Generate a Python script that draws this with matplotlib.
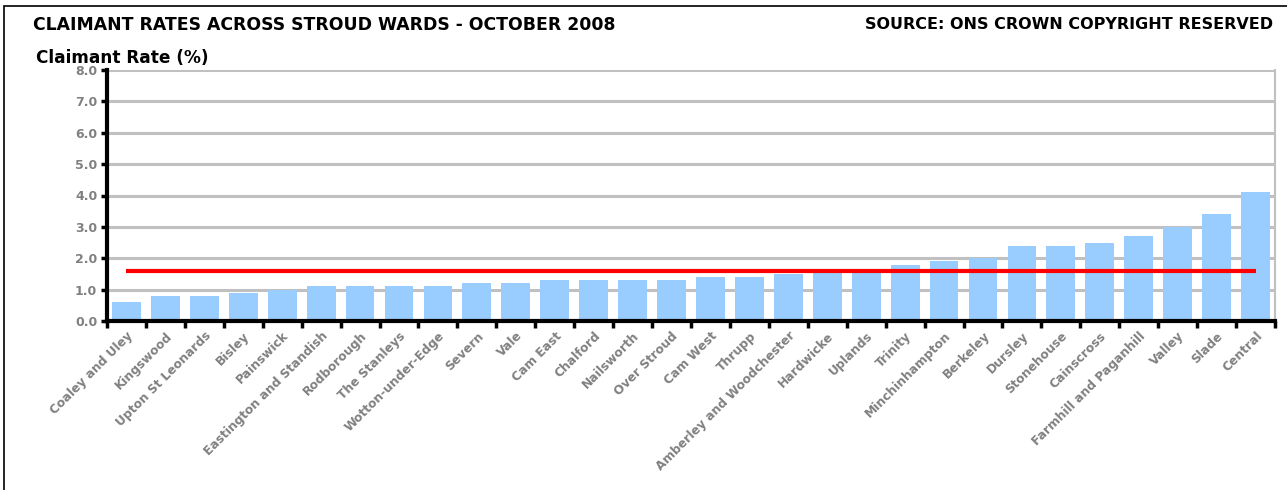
import matplotlib
matplotlib.use("Agg")
import matplotlib.pyplot as plt
from matplotlib.patches import Rectangle
from matplotlib.ticker import FixedLocator

plt.rcParams["font.family"] = ["DejaVu Sans"]

WARDS = [
    "Coaley and Uley", "Kingswood", "Upton St Leonards", "Bisley", "Painswick",
    "Eastington and Standish", "Rodborough", "The Stanleys", "Wotton-under-Edge",
    "Severn", "Vale", "Cam East", "Chalford", "Nailsworth", "Over Stroud",
    "Cam West", "Thrupp", "Amberley and Woodchester", "Hardwicke", "Uplands",
    "Trinity", "Minchinhampton", "Berkeley", "Dursley", "Stonehouse",
    "Cainscross", "Farmhill and Paganhill", "Valley", "Slade", "Central",
]
RATES = [0.6, 0.8, 0.8, 0.9, 1.0, 1.1, 1.1, 1.1, 1.1, 1.2, 1.2, 1.3, 1.3, 1.3,
         1.3, 1.4, 1.4, 1.5, 1.6, 1.6, 1.8, 1.9, 2.0, 2.4, 2.4, 2.5, 2.7, 3.0,
         3.4, 4.1]
STROUD_AVG = 1.6
Y_TICKS = [0, 1, 2, 3, 4, 5, 6, 7, 8]

BAR_COL = "#99CCFF"
GRID_COL = "#C0C0C0"
TXT_GREY = "#808080"

fig = plt.figure(figsize=(12.87, 4.9), dpi=100)
fig.patch.set_facecolor("white")

# outer frame (left + top edge visible)
fig.patches.append(Rectangle((4 / 1287, -0.1), 1.2, 1 - 6 / 490 + 0.1,
                             transform=fig.transFigure, fill=False,
                             edgecolor="black", linewidth=1.2))

ax = fig.add_axes([107 / 1287, 1 - 321 / 490, (1275 - 107) / 1287, (321 - 70) / 490])
n = len(WARDS)
x = list(range(n))
ax.bar(x, RATES, width=0.74, color=BAR_COL, zorder=2)
ax.plot(x, [STROUD_AVG] * n, color="#FF0000", linewidth=3, zorder=3,
        solid_capstyle="butt")

ax.set_xlim(-0.5, n - 0.5)
ax.set_ylim(0, 8)
ax.set_yticks(Y_TICKS)
ax.set_yticklabels([f"{v:.1f}" for v in Y_TICKS], fontsize=9, fontweight="bold",
                   color=TXT_GREY)
for v in Y_TICKS[1:]:
    ax.axhline(v, color=GRID_COL, linewidth=2.2, zorder=1)

ax.set_xticks(x)
ax.set_xticklabels(WARDS, rotation=45, ha="right", rotation_mode="anchor",
                   fontsize=8.8, fontweight="bold", color=TXT_GREY)
ax.tick_params(axis="x", which="major", length=0, pad=6)
ax.xaxis.set_minor_locator(FixedLocator([i - 0.5 for i in range(n + 1)]))
ax.tick_params(axis="x", which="minor", length=5, width=2.5, direction="out",
               color="black")
ax.tick_params(axis="y", length=4, width=2.5, direction="out", color="black",
               pad=3)

for side in ["left", "bottom"]:
    ax.spines[side].set_color("black")
    ax.spines[side].set_linewidth(3)
    ax.spines[side].set_zorder(4)
ax.spines["top"].set_visible(False)
ax.spines["right"].set_color(GRID_COL)
ax.spines["right"].set_linewidth(1.5)

fig.text(33 / 1287, 1 - 30 / 490, "CLAIMANT RATES ACROSS STROUD WARDS - OCTOBER 2008",
         fontsize=12.4, fontweight="bold", ha="left", va="baseline")
fig.text(1273 / 1287, 1 - 29 / 490, "SOURCE: ONS CROWN COPYRIGHT RESERVED",
         fontsize=11.5, fontweight="bold", ha="right", va="baseline")
fig.text(36 / 1287, 1 - 63 / 490, "Claimant Rate (%)",
         fontsize=12.2, fontweight="bold", ha="left", va="baseline")

fig.savefig("out.png", dpi=100)
